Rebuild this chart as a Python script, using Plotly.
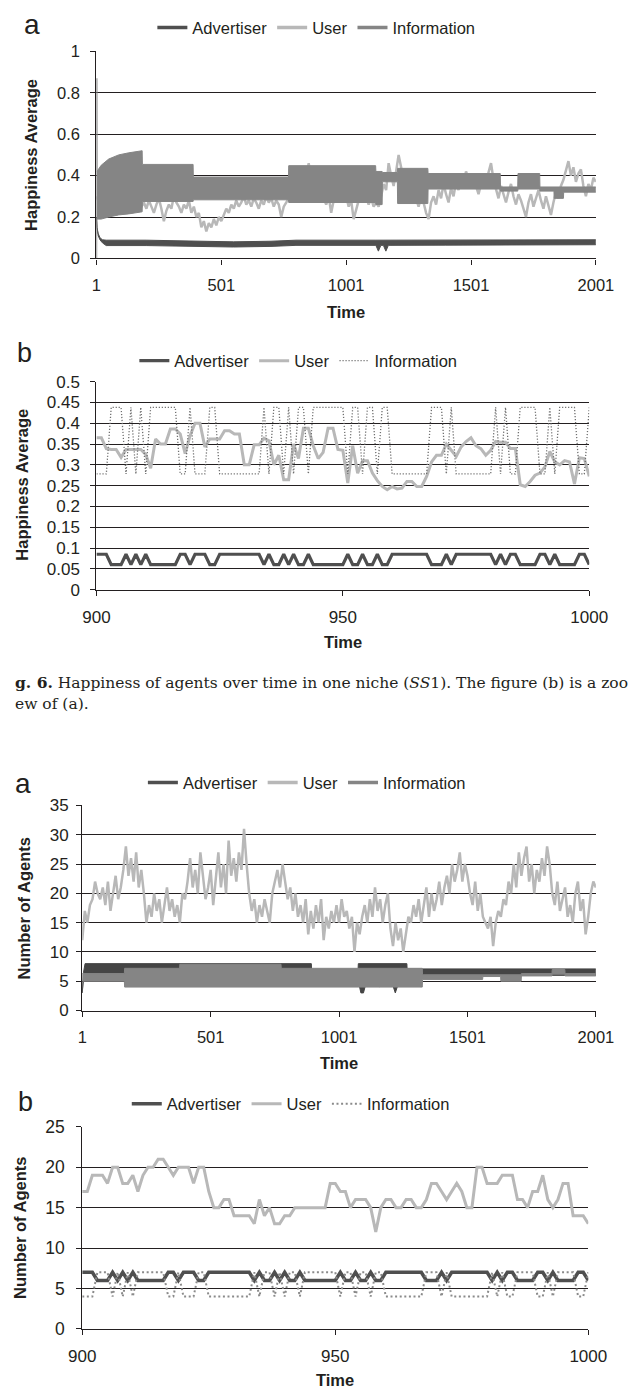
import numpy as np
import plotly.graph_objects as go

W, H = 631, 1400
FONT = "Liberation Sans, Arial, sans-serif"
SERIF = "DejaVu Serif, Liberation Serif, serif"
INK = "#231f20"
C_ADV = "#4f4f4f"
C_USER = "#b8b8b8"
C_INFO = "#858585"

# ---------------- Fig. 6(a): happiness average, full run (steps 1-2001) ----------------
# User happiness sampled every 10 steps
hap_user_full = [
    0.30, 0.27, 0.25, 0.24, 0.22, 0.25, 0.23, 0.26, 0.24, 0.22, 0.25, 0.27, 0.23, 0.25, 0.22, 0.24, 0.26, 0.23, 0.25,
    0.27, 0.24, 0.28, 0.25, 0.22, 0.26, 0.29, 0.24, 0.18, 0.23, 0.26, 0.24, 0.30, 0.27, 0.25, 0.22, 0.26, 0.24, 0.28, 0.22,
    0.25, 0.20, 0.22, 0.15, 0.18, 0.13, 0.17, 0.15, 0.19, 0.16, 0.20, 0.18,
    0.21, 0.24, 0.22, 0.26, 0.24, 0.28, 0.25, 0.27, 0.30, 0.26, 0.28, 0.25, 0.29, 0.27, 0.24, 0.28, 0.26, 0.30, 0.27, 0.29,
    0.25, 0.28, 0.26, 0.20, 0.25, 0.27, 0.29,
    0.30, 0.33, 0.36, 0.31, 0.38, 0.34, 0.40, 0.46, 0.36, 0.30, 0.33, 0.28, 0.32, 0.29, 0.26, 0.30, 0.22, 0.28, 0.32, 0.29,
    0.34, 0.27, 0.30, 0.25, 0.28, 0.19, 0.24, 0.28, 0.32, 0.27, 0.30, 0.26, 0.29, 0.25,
    0.27, 0.25, 0.30, 0.36, 0.33, 0.46, 0.40, 0.35, 0.42, 0.50, 0.44, 0.38, 0.31, 0.36, 0.27, 0.33, 0.29, 0.25, 0.30, 0.27,
    0.22, 0.19, 0.27,
    0.30, 0.26, 0.33, 0.29, 0.36, 0.31, 0.27, 0.34, 0.30, 0.37, 0.33, 0.40, 0.36, 0.42, 0.38, 0.34, 0.39, 0.35, 0.31, 0.36,
    0.40, 0.37, 0.42, 0.46, 0.38, 0.33, 0.29, 0.35, 0.31, 0.27, 0.32, 0.36, 0.30, 0.26, 0.31, 0.28, 0.24, 0.20, 0.27, 0.31,
    0.25, 0.29, 0.33, 0.28, 0.24, 0.30, 0.26, 0.21, 0.27, 0.32, 0.29, 0.35, 0.38, 0.42, 0.47, 0.40, 0.44, 0.37, 0.41, 0.43,
    0.35, 0.30, 0.36, 0.33, 0.39, 0.37,
]
# Advertiser happiness: envelope of the fast oscillation
hap_adv_t = [1, 3, 8, 15, 25, 40, 200, 400, 550, 700, 800, 1120, 1130, 1140, 1150, 1160, 1170, 1400, 2001]
hap_adv_low = [0.20, 0.15, 0.11, 0.09, 0.075, 0.062, 0.062, 0.058, 0.055, 0.058, 0.063, 0.063, 0.035, 0.063,
               0.063, 0.035, 0.063, 0.064, 0.066]
hap_adv_high = [0.20, 0.15, 0.12, 0.10, 0.09, 0.088, 0.088, 0.085, 0.080, 0.083, 0.088, 0.088, 0.088, 0.088,
                0.088, 0.088, 0.088, 0.090, 0.090]
# Information happiness: initial spike, then envelope of the fast oscillation
hap_info_start_t = [1, 2, 3]
hap_info_start_v = [0.0, 0.87, 0.20]
hap_info_t = [3, 20, 50, 90, 130, 184, 185, 388, 389, 770, 771, 1119, 1120, 1145, 1146, 1206, 1207, 1328,
              1329, 1618, 1619, 1688, 1689, 1776, 1777, 1833, 1834, 1871, 1872, 2001]
hap_info_low = [0.19, 0.19, 0.20, 0.21, 0.215, 0.225, 0.275, 0.275, 0.283, 0.283, 0.27, 0.27, 0.26, 0.26,
                0.37, 0.37, 0.265, 0.265, 0.335, 0.335, 0.325, 0.325, 0.335, 0.335, 0.325, 0.325,
                0.29, 0.29, 0.32, 0.32]
hap_info_high = [0.42, 0.45, 0.48, 0.50, 0.51, 0.52, 0.454, 0.454, 0.393, 0.393, 0.448, 0.448, 0.42, 0.42,
                 0.415, 0.415, 0.435, 0.435, 0.41, 0.41, 0.345, 0.345, 0.41, 0.41, 0.345, 0.345,
                 0.345, 0.345, 0.345, 0.345]

# ---------------- Fig. 6(b): happiness average, steps 900-1000 ----------------
zoom_t = list(range(900, 1001))
hap_adv_zoom = [
    0.085, 0.085, 0.085, 0.06, 0.06, 0.06, 0.085, 0.06, 0.085, 0.06,
    0.085, 0.06, 0.06, 0.06, 0.06, 0.06, 0.06, 0.085, 0.085, 0.06,
    0.085, 0.085, 0.085, 0.06, 0.06, 0.085, 0.085, 0.085, 0.085, 0.085,
    0.085, 0.085, 0.085, 0.085, 0.06, 0.085, 0.06, 0.06, 0.085, 0.06,
    0.085, 0.06, 0.06, 0.085, 0.06, 0.06, 0.06, 0.06, 0.06, 0.06,
    0.06, 0.085, 0.06, 0.06, 0.085, 0.06, 0.06, 0.085, 0.06, 0.06,
    0.085, 0.085, 0.085, 0.085, 0.085, 0.085, 0.085, 0.085, 0.06, 0.06,
    0.06, 0.085, 0.06, 0.085, 0.085, 0.085, 0.085, 0.085, 0.085, 0.085,
    0.085, 0.06, 0.085, 0.06, 0.085, 0.085, 0.06, 0.06, 0.06, 0.06,
    0.085, 0.085, 0.06, 0.085, 0.06, 0.06, 0.06, 0.06, 0.085, 0.085,
    0.06,
]
hap_user_zoom = [
    0.365, 0.365, 0.339, 0.337, 0.337, 0.318, 0.337, 0.337, 0.337, 0.337,
    0.325, 0.292, 0.362, 0.350, 0.350, 0.386, 0.386, 0.374, 0.327, 0.370,
    0.400, 0.400, 0.343, 0.362, 0.362, 0.362, 0.382, 0.382, 0.374, 0.374,
    0.300, 0.300, 0.348, 0.348, 0.364, 0.358, 0.300, 0.323, 0.264, 0.264,
    0.350, 0.315, 0.388, 0.388, 0.346, 0.315, 0.330, 0.388, 0.388, 0.337,
    0.335, 0.256, 0.346, 0.280, 0.310, 0.310, 0.280, 0.262, 0.248, 0.240,
    0.248, 0.242, 0.244, 0.260, 0.260, 0.248, 0.248, 0.272, 0.307, 0.323,
    0.323, 0.350, 0.335, 0.320, 0.343, 0.356, 0.365, 0.346, 0.339, 0.323,
    0.335, 0.356, 0.354, 0.354, 0.339, 0.339, 0.252, 0.248, 0.260, 0.275,
    0.280, 0.295, 0.332, 0.307, 0.300, 0.310, 0.307, 0.254, 0.317, 0.315,
    0.272,
]
hap_info_zoom = [
    0.278, 0.278, 0.278, 0.438, 0.438, 0.438, 0.278, 0.438, 0.278, 0.438,
    0.278, 0.438, 0.438, 0.438, 0.438, 0.438, 0.438, 0.278, 0.278, 0.438,
    0.278, 0.278, 0.278, 0.438, 0.438, 0.278, 0.278, 0.278, 0.278, 0.278,
    0.278, 0.278, 0.278, 0.278, 0.438, 0.278, 0.438, 0.438, 0.278, 0.438,
    0.278, 0.438, 0.438, 0.278, 0.438, 0.438, 0.438, 0.438, 0.438, 0.438,
    0.438, 0.278, 0.438, 0.438, 0.278, 0.438, 0.438, 0.278, 0.438, 0.438,
    0.278, 0.278, 0.278, 0.278, 0.278, 0.278, 0.278, 0.278, 0.438, 0.438,
    0.438, 0.278, 0.438, 0.278, 0.278, 0.278, 0.278, 0.278, 0.278, 0.278,
    0.278, 0.438, 0.278, 0.438, 0.278, 0.278, 0.438, 0.438, 0.438, 0.438,
    0.278, 0.278, 0.438, 0.278, 0.438, 0.438, 0.438, 0.438, 0.278, 0.278,
    0.438,
]

# ---------------- Fig. 7(a): number of agents, full run ----------------
num_user_full = [
    12, 17, 15, 18, 19, 22, 20, 19, 21, 18,
    22, 17, 20, 23, 19, 21, 24, 28, 23, 26,
    22, 27, 21, 24, 20, 15, 18, 16, 20, 17,
    19, 15, 18, 21, 17, 19, 16, 18, 15, 20,
    19, 22, 26, 21, 24, 20, 27, 23, 19, 21,
    24, 18, 22, 27, 21, 25, 20, 29, 23, 26,
    22, 27, 24, 31, 25, 20, 17, 19, 15, 18,
    16, 19, 17, 15, 20, 22, 24, 21, 25, 22,
    19, 21, 17, 20, 16, 18, 15, 19, 13, 17,
    14, 18, 15, 19, 12, 16, 14, 17, 15, 18,
    15, 19, 16, 17, 14, 16, 10, 15, 13, 16,
    18, 15, 19, 16, 21, 17, 19, 15, 18, 20,
    14, 11, 15, 12, 14, 10, 13, 16, 15, 18,
    16, 19, 15, 18, 21, 16, 20, 17, 19, 22,
    18, 21, 23, 20, 25, 22, 24, 27, 22, 25,
    23, 20, 18, 22, 17, 20, 16, 15, 14, 16,
    11, 15, 17, 16, 19, 18, 22, 20, 25, 21,
    27, 23, 26, 28, 22, 25, 20, 24, 22, 26,
    23, 28, 25, 20, 18, 22, 17, 19, 21, 16,
    18, 15, 20, 22, 17, 19, 13, 16, 20, 22,
    21,
]
num_adv_t = [1, 6, 12, 893, 894, 1075, 1076, 1086, 1096, 1108, 1150, 1158, 1166, 1205, 1220, 1235, 1265, 1266, 2001]
num_adv_low = [3.0, 5.5, 6.0, 6.0, 6.0, 6.0, 5.0, 3.0, 3.0, 5.0, 5.0, 4.0, 5.0, 5.0, 3.0, 5.0, 5.0, 6.0, 6.0]
num_adv_high = [3.0, 6.5, 8.0, 8.0, 7.0, 7.0, 8.0, 8.0, 8.0, 8.0, 8.0, 8.0, 8.0, 8.0, 8.0, 8.0, 8.0, 7.1, 7.1]
num_info_t = [1, 165, 166, 380, 381, 775, 776, 1325, 1326, 1560, 1561, 1630, 1631, 1710, 1711, 1830, 1831,
              1880, 1881, 2001]
num_info_low = [5.0, 5.0, 4.0, 4.0, 4.0, 4.0, 4.0, 4.0, 5.3, 5.3, 5.8, 5.8, 5.0, 5.0, 5.9, 5.9, 6.2, 6.2, 5.9, 5.9]
num_info_high = [6.3, 6.3, 7.2, 7.2, 7.9, 7.9, 7.2, 7.2, 6.1, 6.1, 6.2, 6.2, 6.1, 6.1, 6.3, 6.3, 7.0, 7.0, 6.3, 6.3]

# ---------------- Fig. 7(b): number of agents, steps 900-1000 ----------------
num_adv_zoom = [
    7, 7, 7, 6, 6, 6, 7, 6, 7, 6,
    7, 6, 6, 6, 6, 6, 6, 7, 7, 6,
    7, 7, 7, 6, 6, 7, 7, 7, 7, 7,
    7, 7, 7, 7, 6, 7, 6, 6, 7, 6,
    7, 6, 6, 7, 6, 6, 6, 6, 6, 6,
    6, 7, 6, 6, 7, 6, 6, 7, 6, 6,
    7, 7, 7, 7, 7, 7, 7, 7, 6, 6,
    6, 7, 6, 7, 7, 7, 7, 7, 7, 7,
    7, 6, 7, 6, 7, 7, 6, 6, 6, 6,
    7, 7, 6, 7, 6, 6, 6, 6, 7, 7,
    6,
]
num_user_zoom = [
    17, 17, 19, 19, 19, 18, 20, 20, 18, 18,
    19, 17, 19, 20, 20, 21, 21, 20, 19, 20,
    20, 20, 18, 20, 20, 17, 15, 15, 16, 16,
    14, 14, 14, 14, 13, 16, 14, 15, 13, 13,
    14, 14, 15, 15, 15, 15, 15, 15, 15, 18,
    18, 17, 17, 15, 16, 16, 16, 15, 12, 15,
    16, 16, 15, 15, 16, 16, 15, 15, 16, 18,
    18, 17, 16, 17, 18, 17, 15, 15, 20, 20,
    18, 18, 18, 19, 19, 19, 16, 16, 15, 17,
    17, 19, 16, 15, 16, 18, 18, 14, 14, 14,
    13,
]
num_info_zoom = [
    4, 4, 4, 7, 7, 7, 4, 7, 4, 7,
    4, 7, 7, 7, 7, 7, 7, 4, 4, 7,
    4, 4, 4, 7, 7, 4, 4, 4, 4, 4,
    4, 4, 4, 4, 7, 4, 7, 7, 4, 7,
    4, 7, 7, 4, 7, 7, 7, 7, 7, 7,
    7, 4, 7, 7, 4, 7, 7, 4, 7, 7,
    4, 4, 4, 4, 4, 4, 4, 4, 7, 7,
    7, 4, 7, 4, 4, 4, 4, 4, 4, 4,
    4, 7, 4, 7, 4, 4, 7, 7, 7, 7,
    4, 4, 7, 4, 7, 7, 7, 7, 4, 4,
    7,
]

SERIES = ["Advertiser", "User", "Information"]


def fx(p):
    return p / W


def fy(p):
    return 1 - p / H


# panel frames in pixels: (left, right), (top, bottom), y-label standoff
FRAMES = {
    1: ((87, 614), (42, 252), 7),
    2: ((87, 607), (377, 588), 7),
    3: ((72, 614), (807, 1015), 4),
    4: ((72, 606), (1133, 1338), 8),
}


def x_axis(k, rng, ticks, size):
    (l, r), (t, b), _ = FRAMES[k]
    return dict(domain=[fx(l), fx(r)], range=rng, tickmode="array", tickvals=ticks,
                showgrid=False, zeroline=False, showline=True, linecolor=INK, linewidth=1.2,
                ticks="outside", ticklen=5, tickwidth=1.2, tickcolor=INK,
                tickfont=dict(family=FONT, size=size, color=INK), ticklabelstandoff=7,
                anchor="y" if k == 1 else f"y{k}", fixedrange=True)


def y_axis(k, rng, dtick, size):
    (l, r), (t, b), standoff = FRAMES[k]
    return dict(domain=[fy(b), fy(t)], range=rng, tick0=0, dtick=dtick,
                showgrid=True, gridcolor=INK, gridwidth=1, zeroline=False,
                showline=True, linecolor=INK, linewidth=1.2,
                ticks="outside", ticklen=5, tickwidth=1.2, tickcolor=INK,
                tickfont=dict(family=FONT, size=size, color=INK), ticklabelstandoff=standoff,
                anchor="x" if k == 1 else f"x{k}", fixedrange=True)


def axes_of(k):
    return ("x", "y") if k == 1 else (f"x{k}", f"y{k}")


def leg_of(k):
    return "legend" if k == 1 else f"legend{k}"


def band(k, t, lo, hi, color):
    xa, ya = axes_of(k)
    return [
        go.Scatter(x=t, y=lo, mode="lines", line=dict(color=color, width=1),
                   showlegend=False, hoverinfo="skip", xaxis=xa, yaxis=ya),
        go.Scatter(x=t, y=hi, mode="lines", line=dict(color=color, width=1),
                   fill="tonexty", fillcolor=color, showlegend=False, hoverinfo="skip",
                   xaxis=xa, yaxis=ya),
    ]


def legend_keys(k):
    xa, ya = axes_of(k)
    return [go.Scatter(x=[None], y=[None], mode="lines", name=n, line=dict(color=c, width=3.5),
                       xaxis=xa, yaxis=ya, legend=leg_of(k))
            for n, c in zip(SERIES, [C_ADV, C_USER, C_INFO])]


traces = []

# Fig. 6(a)
t_full_hap = np.linspace(1, 2001, len(hap_user_full))
traces += legend_keys(1)
traces += band(1, hap_adv_t, hap_adv_low, hap_adv_high, C_ADV)
traces.append(go.Scatter(x=t_full_hap, y=hap_user_full, mode="lines", showlegend=False,
                         line=dict(color=C_USER, width=2.5), xaxis="x", yaxis="y"))
traces.append(go.Scatter(x=hap_info_start_t, y=hap_info_start_v, mode="lines", showlegend=False,
                         line=dict(color=C_INFO, width=1.5), xaxis="x", yaxis="y"))
traces += band(1, hap_info_t, hap_info_low, hap_info_high, C_INFO)

# Fig. 6(b)
traces.append(go.Scatter(x=zoom_t, y=hap_adv_zoom, mode="lines", name="Advertiser",
                         line=dict(color=C_ADV, width=3.2), xaxis="x2", yaxis="y2", legend="legend2"))
traces.append(go.Scatter(x=zoom_t, y=hap_user_zoom, mode="lines", name="User",
                         line=dict(color=C_USER, width=3), xaxis="x2", yaxis="y2", legend="legend2"))
traces.append(go.Scatter(x=zoom_t, y=hap_info_zoom, mode="lines", name="Information",
                         line=dict(color="#6f6f6f", width=1.3, dash="1.2px,1.8px"),
                         xaxis="x2", yaxis="y2", legend="legend2"))

# Fig. 7(a)
t_full_num = np.linspace(1, 2001, len(num_user_full))
traces += legend_keys(3)
traces += band(3, num_adv_t, num_adv_low, num_adv_high, "#454545")
traces.append(go.Scatter(x=t_full_num, y=num_user_full, mode="lines", showlegend=False,
                         line=dict(color=C_USER, width=2.5), xaxis="x3", yaxis="y3"))
traces += band(3, num_info_t, num_info_low, num_info_high, C_INFO)

# Fig. 7(b)
traces.append(go.Scatter(x=zoom_t, y=num_adv_zoom, mode="lines", name="Advertiser",
                         line=dict(color=C_ADV, width=3.5), xaxis="x4", yaxis="y4", legend="legend4"))
traces.append(go.Scatter(x=zoom_t, y=num_user_zoom, mode="lines", name="User",
                         line=dict(color=C_USER, width=3), xaxis="x4", yaxis="y4", legend="legend4"))
traces.append(go.Scatter(x=zoom_t, y=num_info_zoom, mode="lines", name="Information",
                         line=dict(color="#8a8a8a", width=2, dash="2px,2.6px"),
                         xaxis="x4", yaxis="y4", legend="legend4"))

fig = go.Figure(traces)


def legend_box(xpx, ypx, size):
    return dict(orientation="h", x=fx(xpx), y=fy(ypx), xanchor="left", yanchor="middle",
                traceorder="normal",
                font=dict(family=FONT, size=size, color=INK), bgcolor="rgba(0,0,0,0)",
                borderwidth=0, itemwidth=30, itemclick=False, itemdoubleclick=False)


def label(text, xpx, ypx, size, bold=False, angle=0, family=FONT, xanchor="center"):
    return dict(text=f"<b>{text}</b>" if bold else text, x=fx(xpx), y=fy(ypx),
                xref="paper", yref="paper", showarrow=False, textangle=angle,
                xanchor=xanchor, yanchor="middle", font=dict(family=family, size=size, color=INK))


annotations = [
    label("a", 19, 15, 28), label("b", 11, 348, 27), label("a", 9, 785, 28), label("b", 12, 1108, 27),
    label("Happiness Average", 18, 147, 16.5, bold=True, angle=-90),
    label("Happiness Average", 9, 482, 16.5, bold=True, angle=-90),
    label("Number of Agents", 11, 911, 16.5, bold=True, angle=-90),
    label("Number of Agents", 7, 1236, 16.5, bold=True, angle=-90),
    label("Time", 350, 306, 16.5, bold=True),
    label("Time", 347, 641, 16.5, bold=True),
    label("Time", 343, 1068, 16.5, bold=True),
    label("Time", 339, 1390, 16.5, bold=True),
    label("<b>g. 6.</b> Happiness of agents over time in one niche (<i>SS</i>1). The figure (b) is a zoo",
          -1, 682, 15.5, family=SERIF, xanchor="left"),
    label("ew of (a).", -1, 704, 15.5, family=SERIF, xanchor="left"),
]

fig.update_layout(
    width=W, height=H, margin=dict(l=0, r=0, t=0, b=0),
    paper_bgcolor="white", plot_bgcolor="white", showlegend=True,
    xaxis=x_axis(1, [1, 2001], [1, 501, 1001, 1501, 2001], 16.5),
    yaxis=y_axis(1, [0, 1], 0.2, 16.5),
    xaxis2=x_axis(2, [900, 1000], [900, 950, 1000], 17),
    yaxis2=y_axis(2, [0, 0.5], 0.05, 17),
    xaxis3=x_axis(3, [1, 2001], [1, 501, 1001, 1501, 2001], 16.5),
    yaxis3=y_axis(3, [0, 35], 5, 17),
    xaxis4=x_axis(4, [900, 1000], [900, 950, 1000], 17),
    yaxis4=y_axis(4, [0, 25], 5, 17.5),
    legend=legend_box(146, 18, 16.5),
    legend2=legend_box(127, 356, 16.5),
    legend3=legend_box(136, 784, 16.5),
    legend4=legend_box(119, 1110, 16.5),
    annotations=annotations,
)

fig.write_html("out.html", config={"displayModeBar": False, "responsive": False})
